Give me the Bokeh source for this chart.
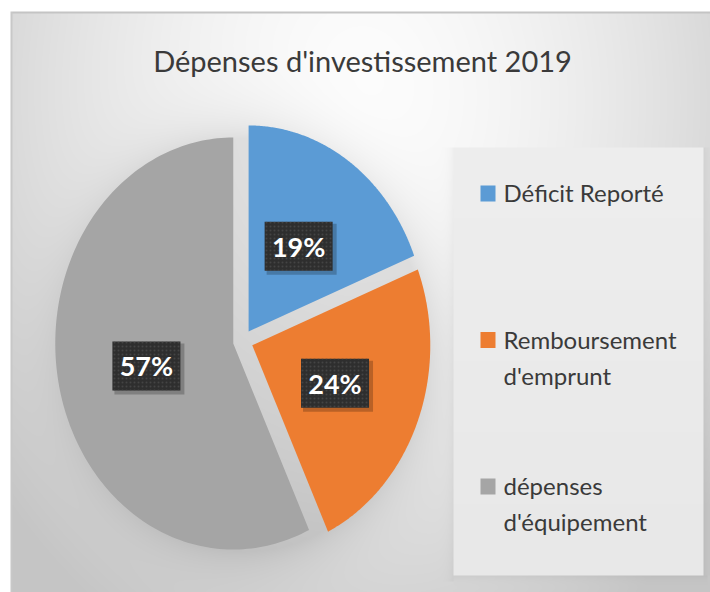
import numpy as np
from bokeh.plotting import figure
from bokeh.models import Range1d
from bokeh.core.properties import value
from bokeh.embed import file_html
from bokeh.resources import INLINE

# ---------------- data ----------------
title = "Dépenses d'investissement 2019"
categories = ["Déficit Reporté", "Remboursement\nd'emprunt", "dépenses\nd'équipement"]
percents = [19, 24, 57]
colors = ["#5B9BD5", "#ED7D31", "#A5A5A5"]

# ---------------- layout (page pixels) ----------------
W, H = 710, 592
X0, Y0 = 0, 0                      # page offset of the figure
def Y(py):                         # page y -> data y
    return (Y0 + H) - py

CX, CY = 242.5, 340.5              # pie centre (page px)
RX, RY = 178.0, 206.0              # pie radii (stretched image)
EXPL = 0.056                       # explosion (fraction of radius)
LABEL_R = 0.5
FONT = "Lato"
TXT = "#3A3A3A"

p = figure(width=W, height=H, x_range=Range1d(X0, X0 + W), y_range=Range1d(0, H),
           output_backend="svg", toolbar_location=None, min_border=0)
p.axis.visible = False
p.grid.visible = False
p.outline_line_color = None
p.background_fill_color = "white"
p.border_fill_color = "white"

# ---------------- background (gradient, pie shadow, legend panel) ----------------
bx0, by0, bx1, by1 = 10, 11, X0 + W, Y0 + H
xs = bx0 + np.arange(bx1 - bx0) + 0.5
ys = by0 + np.arange(by1 - by0) + 0.5
XX, YY = np.meshgrid(xs, ys)
d = np.sqrt(((XX - 360) / 430.0) ** 2 + ((YY - 100) / 560.0) ** 2)
v = 253 - 48 * d ** 1.6
v = np.clip(v, 198, 253)
e = np.sqrt(((XX - CX - 3) / RX) ** 2 + ((YY - CY - 4) / RY) ** 2)
v -= 24 * np.exp(-np.maximum(e - 1, 0) / 0.12)
# legend panel
lx0, ly0, lx1, ly1 = 453, 147, 703, 575
inside = (XX >= lx0) & (XX <= lx1) & (YY >= ly0) & (YY <= ly1)
dl = np.where((YY >= ly0) & (YY <= ly1 + 6) & (XX < lx0), lx0 - XX, 1e9)
v -= 9 * np.exp(-dl / 4.0)
db = np.where((XX >= lx0) & (XX <= lx1 + 4) & (YY > ly1), YY - ly1, 1e9)
v -= 9 * np.exp(-db / 4.0)
dr = np.where((YY >= ly0) & (YY <= ly1) & (XX > lx1), XX - lx1, 1e9)
v -= 9 * np.exp(-dr / 4.0)
v = np.where(inside, 238 - 6 * (YY - ly0) / (ly1 - ly0), v)
# frame border
v[0:2, :] = 196
v[:, 0:2] = 200
g = np.clip(v, 0, 255).astype(np.uint32)
img = (255 << 24) | (g << 16) | (g << 8) | g
img = np.flipud(img).astype(np.uint32)
p.image_rgba(image=[img], x=bx0, y=Y(by1), dw=bx1 - bx0, dh=by1 - by0)

# ---------------- pie ----------------
total = float(sum(percents))
cyd = Y(CY)
pxs, pys, lab_x, lab_y, lab_t = [], [], [], [], []
acc = 0.0
for val in percents:
    a0 = 2 * np.pi * acc / total
    a1 = 2 * np.pi * (acc + val) / total
    mid = 0.5 * (a0 + a1)
    ox, oy = EXPL * np.sin(mid), EXPL * np.cos(mid)
    th = np.linspace(a0, a1, 160)
    u = np.concatenate([[0.0], np.sin(th)]) + ox
    w = np.concatenate([[0.0], np.cos(th)]) + oy
    pxs.append(list(CX + RX * u))
    pys.append(list(cyd + RY * w))
    lab_x.append(CX + RX * (ox + LABEL_R * np.sin(mid)))
    lab_y.append(cyd + RY * (oy + LABEL_R * np.cos(mid)))
    lab_t.append(f"{round(val / total * 100)}%")
    acc += val

p.patches(xs=pxs, ys=pys, fill_color=colors, line_color=None)

# data label boxes
bw, bh = 68, 49
p.rect(x=[x + 3 for x in lab_x], y=[y - 3 for y in lab_y], width=bw + 2, height=bh + 2,
       fill_color="#000000", fill_alpha=0.22, line_color=None)
p.rect(x=lab_x, y=lab_y, width=bw, height=bh, fill_color="#2E2E2E", line_color=None,
       hatch_pattern=".", hatch_color="#4A4A4A", hatch_scale=4, hatch_alpha=0.8)
p.text(x=lab_x, y=lab_y, text=lab_t, text_align="center", text_baseline="middle",
       text_color="white", text_font=value(FONT), text_font_style="bold",
       text_font_size="27px")

# ---------------- title ----------------
p.text(x=[362], y=[Y(60)], text=[title], text_align="center", text_baseline="alphabetic",
       text_color=TXT, text_font=value(FONT), text_font_size="29px")

# ---------------- legend ----------------
LEG_TOP = 185.0
LEG_STEP = 146.5
LINE_H = 36.0
sq_x, sq_y, tx, ty, tt = [], [], [], [], []
for i, cat in enumerate(categories):
    top = LEG_TOP + i * LEG_STEP
    sq_x.append(487.5)
    sq_y.append(Y(top + 8))
    for j, line in enumerate(cat.split("\n")):
        tx.append(503)
        ty.append(Y(top + 7 + j * LINE_H))
        tt.append(line)
p.rect(x=sq_x, y=sq_y, width=15, height=16, fill_color=colors, line_color=None)
p.text(x=tx, y=ty, text=tt, text_align="left", text_baseline="alphabetic",
       text_color=TXT, text_font=value(FONT), text_font_size="24px")

open("out.html", "w").write(file_html(p, INLINE))
